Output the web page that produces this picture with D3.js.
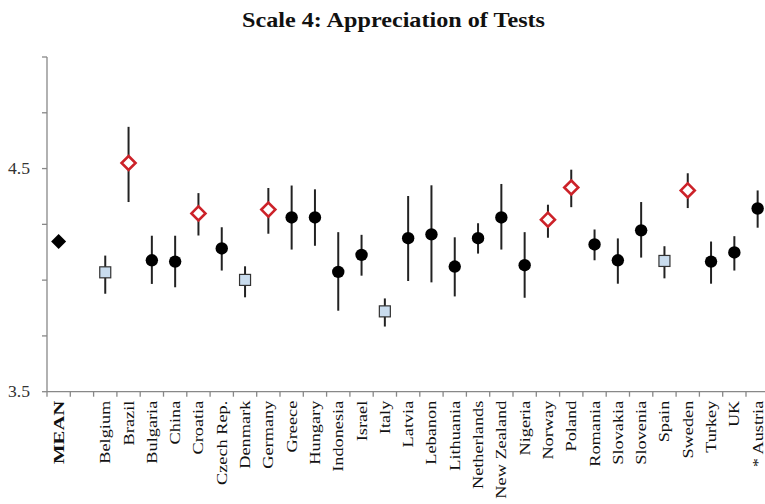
<!DOCTYPE html>
<html>
<head>
<meta charset="utf-8">
<script src="https://cdn.jsdelivr.net/npm/d3@7"></script>
<style>
  body { margin: 0; background: #fff; }
  svg { display: block; font-family: "Liberation Serif", "Times New Roman", serif; }
  .title { font-weight: bold; font-size: 21px; fill: #111; }
  .y-axis text { font-size: 16px; fill: #333; }
  .x-label { font-size: 15px; fill: #111; }
</style>
</head>
<body>
<div id="chart"></div>
<script>
// categories (empty string = gap after MEAN)
const countries = ['MEAN', '', 'Belgium', 'Brazil', 'Bulgaria', 'China', 'Croatia', 'Czech Rep.', 'Denmark',
  'Germany', 'Greece', 'Hungary', 'Indonesia', 'Israel', 'Italy', 'Latvia', 'Lebanon', 'Lithuania',
  'Netherlands', 'New Zealand', 'Nigeria', 'Norway', 'Poland', 'Romania', 'Slovakia', 'Slovenia',
  'Spain', 'Sweden', 'Turkey', 'UK', '* Austria'];
const means = [4.173, null, 4.035, 4.525, 4.089, 4.083, 4.299, 4.142, 4.001,
  4.316, 4.281, 4.281, 4.037, 4.113, 3.860, 4.188, 4.205, 4.061,
  4.188, 4.281, 4.067, 4.271, 4.415, 4.160, 4.089, 4.223,
  4.086, 4.402, 4.083, 4.124, 4.321];
const upper = [null, null, 4.110, 4.687, 4.199, 4.199, 4.390, 4.237, 4.062,
  4.413, 4.424, 4.407, 4.215, 4.203, 3.918, 4.377, 4.425, 4.192,
  4.255, 4.431, 4.215, 4.338, 4.495, 4.227, 4.187, 4.350,
  4.152, 4.479, 4.173, 4.197, 4.402];
const lower = [null, null, 3.939, 4.350, 3.983, 3.968, 4.200, 4.043, 3.923,
  4.208, 4.137, 4.154, 3.863, 4.020, 3.792, 3.996, 3.990, 3.927,
  4.119, 4.137, 3.921, 4.190, 4.327, 4.089, 3.984, 4.101,
  4.008, 4.323, 3.984, 4.043, 4.235];
// marker kind: mean, high (red diamond), low (blue square), avg (black dot)
const kinds = ['mean', null, 'low', 'high', 'avg', 'avg', 'high', 'avg', 'low',
  'high', 'avg', 'avg', 'avg', 'avg', 'low', 'avg', 'avg', 'avg',
  'avg', 'avg', 'avg', 'high', 'high', 'avg', 'avg', 'avg',
  'low', 'high', 'avg', 'avg', 'avg'];
const yTicks = [3.5, 3.75, 4, 4.25, 4.5, 4.75, 5];
const yLabels = [3.5, 4.5];

const width = 765, height = 504;
const margin = {top: 57, bottom: 113, left: 47};

const svg = d3.select('#chart').append('svg')
  .attr('width', width).attr('height', height);

svg.append('text').classed('title', true)
  .attr('x', 393.5).attr('y', 27).attr('text-anchor', 'middle')
  .attr('textLength', 303).attr('lengthAdjust', 'spacingAndGlyphs')
  .text('Scale 4: Appreciation of Tests');

const x = d3.scaleBand().domain(d3.range(countries.length))
  .range([margin.left, margin.left + 23.3 * countries.length]);
const y = d3.scaleLinear().domain([3.5, 5]).range([height - margin.bottom + 0.7, margin.top]);

// y axis
const yAxis = svg.append('g').classed('y-axis', true);
yAxis.append('line')
  .attr('x1', margin.left).attr('x2', margin.left)
  .attr('y1', y(5)).attr('y2', y(3.5))
  .attr('stroke', '#888').attr('stroke-width', 1.3);
yAxis.selectAll('line.tick').data(yTicks).join('line').classed('tick', true)
  .attr('x1', margin.left - 5).attr('x2', margin.left)
  .attr('y1', d => y(d)).attr('y2', d => y(d))
  .attr('stroke', '#888').attr('stroke-width', 1.3);
yAxis.selectAll('text').data(yLabels).join('text')
  .attr('transform', d => `translate(${margin.left - 17},${y(d) + 5.5}) scale(1.1,1)`)
  .attr('text-anchor', 'end')
  .text(d => d3.format('.1f')(d));

// x axis
const xAxis = svg.append('g').classed('x-axis', true);
xAxis.append('line')
  .attr('x1', margin.left).attr('x2', width)
  .attr('y1', y(3.5)).attr('y2', y(3.5))
  .attr('stroke', '#888').attr('stroke-width', 1.3);
xAxis.selectAll('line.tick').data(d3.range(countries.length + 1)).join('line').classed('tick', true)
  .attr('x1', i => margin.left + i * x.step()).attr('x2', i => margin.left + i * x.step())
  .attr('y1', y(3.5)).attr('y2', y(3.5) + 5)
  .attr('stroke', '#888').attr('stroke-width', 1.3);
xAxis.selectAll('text').data(countries).join('text').classed('x-label', true)
  .attr('transform', (d, i) => `translate(${x(i) + x.bandwidth() / 2 + 5},${y(3.5) + 9}) rotate(-90) scale(${i === 0 ? 1.38 : 1.22},1)`)
  .attr('text-anchor', 'end')
  .style('font-weight', (d, i) => i === 0 ? 'bold' : 'normal')
  .text(d => d);

const idx = d3.range(countries.length).filter(i => means[i] !== null);
const cx = i => x(i) + x.bandwidth() / 2;

// error bars
svg.append('g').selectAll('line').data(idx.filter(i => upper[i] !== null)).join('line')
  .attr('x1', cx).attr('x2', cx)
  .attr('y1', i => y(upper[i])).attr('y2', i => y(lower[i]))
  .attr('stroke', '#222').attr('stroke-width', 2);

// markers
const marks = svg.append('g');
const diamond = r => `M0,${-r}L${r},0L0,${r}L${-r},0Z`;
idx.forEach(i => {
  const g = marks.append('g').attr('transform', `translate(${cx(i)},${y(means[i])})`);
  if (kinds[i] === 'avg') {
    g.append('circle').attr('r', 6.2).attr('fill', '#000');
  } else if (kinds[i] === 'low') {
    g.append('rect').attr('x', -5.5).attr('y', -5.5).attr('width', 11).attr('height', 11)
      .attr('fill', '#c9dcee').attr('stroke', '#333').attr('stroke-width', 1.2);
  } else if (kinds[i] === 'high') {
    g.append('path').attr('d', diamond(7)).attr('fill', '#fff')
      .attr('stroke', '#cc2229').attr('stroke-width', 2.6);
  } else {
    g.append('path').attr('d', diamond(7.5)).attr('fill', '#000');
  }
});
</script>
</body>
</html>
